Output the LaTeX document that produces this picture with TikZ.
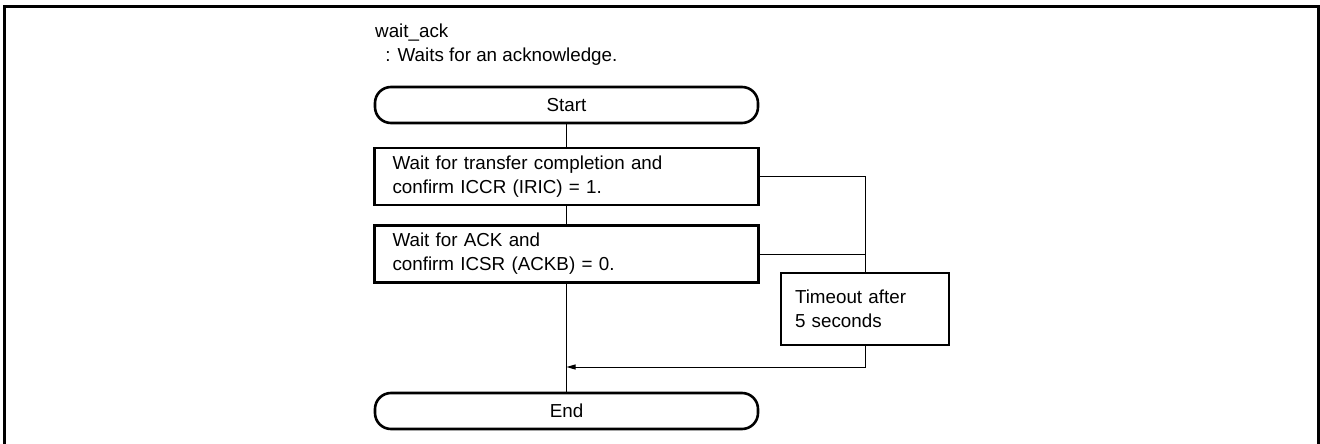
\documentclass[tikz,border=0pt]{standalone}
\usepackage{fontspec}
\setmainfont{Liberation Sans}
\usetikzlibrary{arrows.meta}
\tikzset{
  every node/.style={font=\fontsize{18.8}{24}\selectfont, inner sep=0pt},
  terminal/.style={draw, line width=2.6pt, rounded corners=16pt,
    minimum width=383pt, minimum height=36pt},
  procbox/.style={draw, line width=2.6pt, minimum width=384pt, minimum height=57pt,
    text width=348pt, align=left},
  timebox/.style={draw, line width=2.6pt, minimum width=168pt, minimum height=72pt,
    text width=140pt, align=left},
  flow/.style={draw, line width=1pt},
  frame/.style={draw, line width=3pt}
}
\begin{document}
\begin{tikzpicture}[x=1pt,y=-1pt]
  \useasboundingbox (0,0) rectangle (1320,444);
  % outer frame (bottom edge lies beyond the page)
  \draw[frame] (4.5,450) -- (4.5,6.5) -- (1318.5,6.5) -- (1318.5,450);

  % title
  \node[anchor=west] (title) at (375,33) {wait\_ack};
  \node[anchor=west] (desc) at (380,57) {\ : Waits for an acknowledge.};

  % flow nodes
  \node[terminal] (start) at (566.5,105) {Start};
  \node[procbox] (b1) at (566.5,176.5) {Wait for transfer completion and\\confirm ICCR (IRIC) = 1.};
  \node[procbox] (b2) at (566.5,254) {Wait for ACK and\\confirm ICSR (ACKB) = 0.};
  \node[timebox] (to) at (865,309) {Timeout after\\5 seconds};
  \node[terminal] (end) at (566.5,411) {End};
  \coordinate (join) at (566.5,367);

  % connectors
  \draw[flow] (start) -- (b1);
  \draw[flow] (b1) -- (b2);
  \draw[flow] (b2) -- (end);
  \draw[flow] (b1.east) -| (to.north);
  \draw[flow] (b2.east) -- (b2.east -| to.north);
  \draw[flow, -{Triangle[length=9pt,width=5pt]}] (to.south) |- (join);
\end{tikzpicture}
\end{document}
